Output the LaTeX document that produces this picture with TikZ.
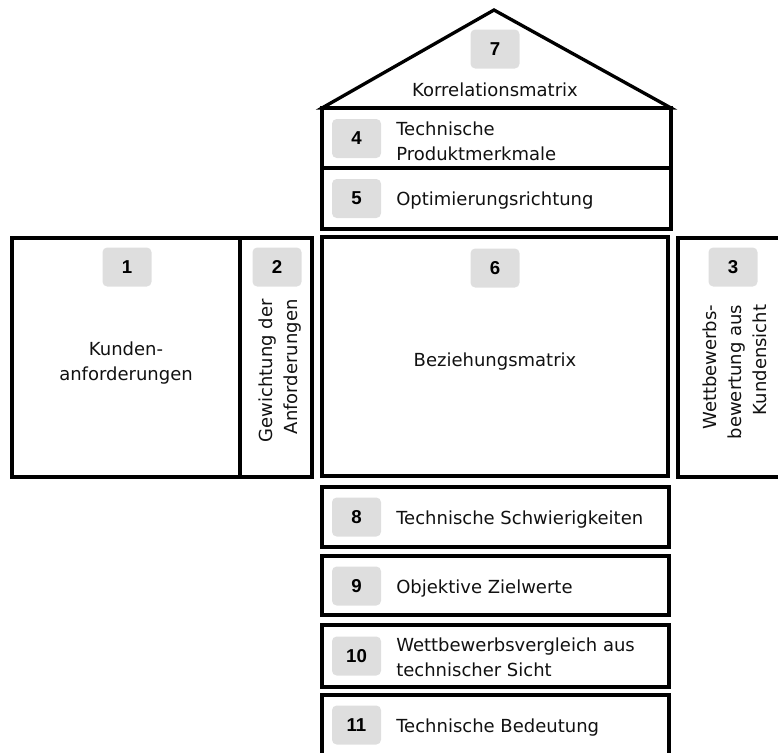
\documentclass[tikz,border=0pt]{standalone}
\usepackage{fontspec}
\setmainfont{DejaVu Sans}
\newfontfamily\numfont{Liberation Sans}
\usetikzlibrary{fit}
\definecolor{badgegray}{HTML}{DEDEDE}
\definecolor{inkcol}{HTML}{111111}
\begin{document}
\begin{tikzpicture}[x=0.75pt,y=-0.75pt,
  box/.style={draw=black, line width=3pt, inner sep=0pt},
  roofline/.style={draw=black, line width=2.5pt, line join=miter},
  badge/.style={fill=badgegray, rounded corners=3.5pt, minimum width=36.75pt,
    minimum height=29.25pt, inner sep=0pt, text=black,
    font=\numfont\bfseries\fontsize{14pt}{14pt}\selectfont},
  lbl/.style={inner sep=0pt, text=inkcol,
    font=\fontsize{13.5pt}{18.75pt}\selectfont},
  sidelbl/.style={lbl, rotate=90, align=right}]
\useasboundingbox (0,0) rectangle (778,753);
\clip (0,0) rectangle (778,753);

% roof: correlation matrix
\draw[roofline] (322,108) -- (494,10) -- (671,108) -- cycle;
\node[badge] (n7) at (495,49) {7};
\node[lbl, anchor=base] (t7) at (495,96) {Korrelationsmatrix};

% technical characteristics and optimisation direction
\node[box, fit={(322,108) (671,168)}] (b4) {};
\node[badge] (n4) at (356.5,138.5) {4};
\node[lbl, anchor=west, align=left] (t4) at (396,141) {Technische\\Produktmerkmale};

\node[box, fit={(322,168) (671,229)}] (b5) {};
\node[badge] (n5) at (356.5,198.5) {5};
\node[lbl, anchor=base west] (t5) at (396,205.5) {Optimierungsrichtung};

% customer requirements and weighting
\node[box, fit={(12,238) (240,477)}] (b1) {};
\node[badge] (n1) at (127,267) {1};
\node[lbl, align=center] (t1) at (126,363) {Kunden-\\anforderungen};

\node[box, fit={(240,238) (312,477)}] (b2) {};
\node[badge] (n2) at (277,267) {2};
\node[sidelbl] (t2) at (280,371) {Gewichtung der\\Anforderungen};

% relationship matrix
\node[box, fit={(322,237) (668,476)}] (b6) {};
\node[badge] (n6) at (495,268) {6};
\node[lbl, anchor=base] (t6) at (495,366) {Beziehungsmatrix};

% competitive assessment from the customer's view
\node[box, fit={(678,238) (790,477)}] (b3) {};
\node[badge] (n3) at (733,267) {3};
\node[sidelbl] (t3) at (735,372) {Wettbewerbs-\\bewertung aus\\Kundensicht};

% lower rows
\node[box, fit={(322,487) (669,547)}] (b8) {};
\node[badge] (n8) at (356.5,517) {8};
\node[lbl, anchor=base west] (t8) at (396,524) {Technische Schwierigkeiten};

\node[box, fit={(322,556) (669,615)}] (b9) {};
\node[badge] (n9) at (356.5,586) {9};
\node[lbl, anchor=base west] (t9) at (396,593) {Objektive Zielwerte};

\node[box, fit={(322,625) (669,687)}] (b10) {};
\node[badge] (n10) at (356.5,656) {10};
\node[lbl, anchor=west, align=left] (t10) at (396,657) {Wettbewerbsvergleich aus\\technischer Sicht};

\node[box, fit={(322,695) (669,760)}] (b11) {};
\node[badge] (n11) at (356.5,725) {11};
\node[lbl, anchor=base west] (t11) at (396,732) {Technische Bedeutung};
\end{tikzpicture}
\end{document}
